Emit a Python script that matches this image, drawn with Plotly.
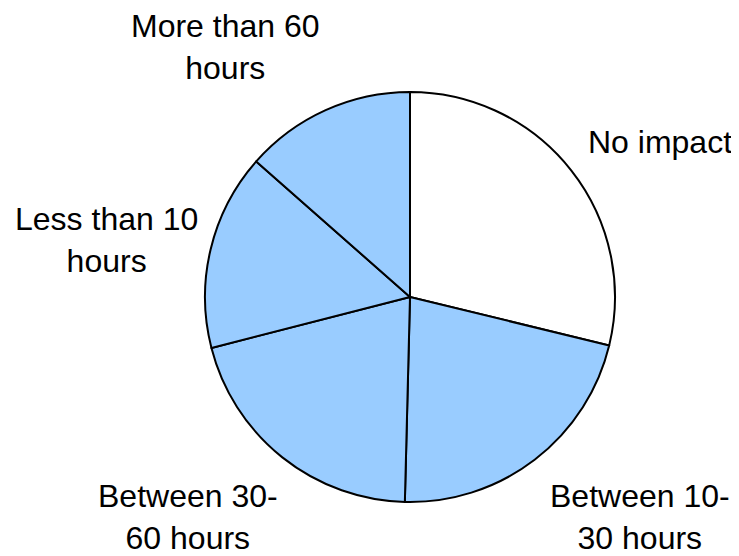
import plotly.graph_objects as go

categories = ["No impact", "Between 10-30 hours", "Between 30-60 hours",
              "Less than 10 hours", "More than 60 hours"]
values = [28.8, 21.6, 20.6, 15.5, 13.5]
label_text = ["No impact", "Between 10-<br>30 hours", "Between 30-<br>60 hours",
              "Less than 10<br>hours", "More than 60<br>hours"]
colors = ["#FFFFFF", "#99CCFF", "#99CCFF", "#99CCFF", "#99CCFF"]

OFF = 8  # default page body margin
W, H = 739 - 2 * OFF, 556 - OFF
cx, cy, r = 410 - OFF, 297 - OFF, 205

fig = go.Figure(go.Pie(
    labels=categories, values=values, sort=False, direction="clockwise",
    rotation=0, textinfo="none", hoverinfo="label+percent",
    marker=dict(colors=colors, line=dict(color="black", width=2)),
    domain=dict(x=[(cx - r) / W, (cx + r) / W], y=[(H - cy - r) / H, (H - cy + r) / H]),
    showlegend=False,
))

label_pos = [(660, 142), (640, 517), (188, 517), (106, 240), (225, 47)]
for t, (x, y) in zip(label_text, label_pos):
    fig.add_annotation(text=t, x=(x - OFF) / W, y=1 - (y - OFF) / H, xref="paper", yref="paper",
                       xanchor="center", yanchor="middle", showarrow=False,
                       font=dict(family="Liberation Sans, Arial", size=32, color="black"))

fig.update_layout(width=W, height=H, margin=dict(l=0, r=0, t=0, b=0),
                  paper_bgcolor="white", plot_bgcolor="white")
fig.write_html("out.html")
